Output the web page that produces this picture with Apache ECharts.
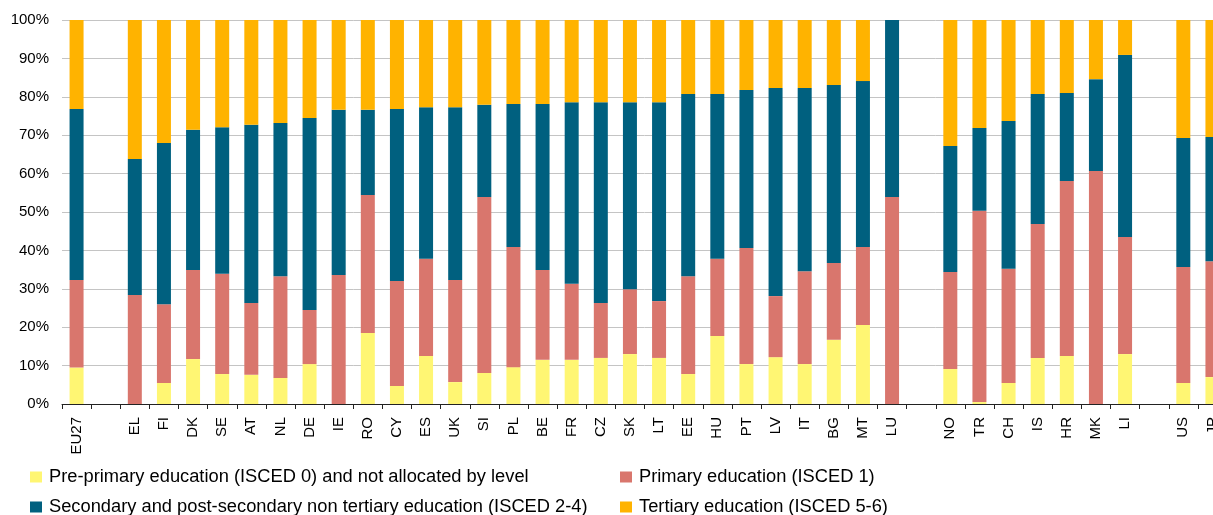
<!DOCTYPE html>
<html>
<head>
<meta charset="utf-8">
<script src="https://cdn.jsdelivr.net/npm/echarts@6/dist/echarts.min.js"></script>
<style>
  html, body { margin: 0; padding: 0; background: #fff; overflow: hidden; }
  /* plot runs past the right edge in the original, JP is cut off */
  #chart { width: 1240px; height: 515px; }
</style>
</head>
<body>
<div id="chart"></div>
<script>
// categories (blank slots are the gaps between country groups)
const countries = ["EU27", " ", "EL", "FI", "DK", "SE", "AT", "NL", "DE", "IE", "RO", "CY", "ES", "UK", "SI", "PL", "BE", "FR", "CZ", "SK", "LT", "EE", "HU", "PT", "LV", "IT", "BG", "MT", "LU", "  ", "NO", "TR", "CH", "IS", "HR", "MK", "LI", "   ", "US", "JP"];

// share of expenditure by level, %
const prePrimary = [9.5, null, 0, 5.5, 11.7, 7.8, 7.6, 6.8, 10.4, 0, 18.5, 4.7, 12.5, 5.7, 8.1, 9.6, 11.5, 11.5, 12.0, 13.0, 12.0, 7.8, 17.7, 10.4, 12.2, 10.4, 16.7, 20.6, 0, null, 9.1, 0.5, 5.5, 12.0, 12.5, 0, 13.0, null, 5.5, 7.0];
const primary = [22.8, null, 28.4, 20.5, 23.2, 26.1, 18.7, 26.5, 14.1, 33.6, 35.9, 27.3, 25.3, 26.6, 45.8, 31.3, 23.4, 19.8, 14.3, 16.9, 14.8, 25.5, 20.1, 30.2, 15.9, 24.2, 20.0, 20.3, 53.9, null, 25.3, 49.8, 29.7, 34.9, 45.6, 60.7, 30.5, null, 30.2, 30.2];
const secondary = [44.5, null, 35.4, 42.0, 36.5, 38.2, 46.4, 39.9, 50.0, 43.0, 22.2, 44.8, 39.5, 45.0, 24.0, 37.2, 43.2, 47.3, 52.3, 48.7, 51.8, 47.4, 42.9, 41.2, 54.2, 47.7, 46.4, 43.2, 46.1, null, 32.8, 21.6, 38.5, 33.8, 22.9, 23.9, 47.4, null, 33.6, 32.3];
const tertiary = [23.2, null, 36.2, 32.0, 28.6, 27.9, 27.3, 26.8, 25.5, 23.4, 23.4, 23.2, 22.7, 22.7, 22.1, 21.9, 21.9, 21.4, 21.4, 21.4, 21.4, 19.3, 19.3, 18.2, 17.7, 17.7, 16.9, 15.9, 0, null, 32.8, 28.1, 26.3, 19.3, 19.0, 15.4, 9.1, null, 30.7, 30.5];

const seriesNames = [
  "Pre-primary education (ISCED 0) and not allocated by level",
  "Primary education (ISCED 1)",
  "Secondary and post-secondary non tertiary education (ISCED 2-4)",
  "Tertiary education (ISCED 5-6)"
];
const colors = ["#FFF673", "#D9766D", "#00607F", "#FFB300"];

const font = "'Liberation Sans', Arial, sans-serif";
const chart = echarts.init(document.getElementById("chart"));

const dataArr = [prePrimary, primary, secondary, tertiary];
const series = dataArr.map((d, i) => ({
  name: seriesNames[i],
  type: "bar",
  stack: "total",
  barWidth: 14,
  data: d,
  itemStyle: { color: colors[i] },
}));

// two legend columns, two rows each
const legendBase = {
  orient: "vertical",
  top: 468,
  height: 60,
  padding: 0,
  itemWidth: 12,
  itemHeight: 11,
  itemGap: 12,
  icon: "rect",
  textStyle: {
    fontFamily: font,
    fontSize: 18.3,
    color: "#000",
    lineHeight: 18,
    padding: [0, 0, 0, 2],
  },
};

chart.setOption({
  animation: false,
  color: colors,
  grid: { left: 62, top: 20, width: 1165, height: 384 },
  legend: [
    Object.assign({}, legendBase, { left: 30, data: [seriesNames[0], seriesNames[2]] }),
    Object.assign({}, legendBase, { left: 620, data: [seriesNames[1], seriesNames[3]] }),
  ],
  xAxis: {
    type: "category",
    data: countries,
    axisLine: { lineStyle: { color: "#222", width: 1 } },
    axisTick: { show: true, length: 5, lineStyle: { color: "#222" } },
    axisLabel: {
      interval: 0,
      rotate: 90,
      margin: 13,
      fontFamily: font,
      fontSize: 15,
      color: "#000",
    },
  },
  yAxis: {
    type: "value",
    min: 0,
    max: 100,
    interval: 10,
    axisLine: { show: false },
    axisTick: { show: false },
    axisLabel: {
      formatter: "{value}%",
      margin: 13,
      fontFamily: font,
      fontSize: 15,
      color: "#000",
    },
    splitLine: { lineStyle: { color: "#c4c4c4", width: 1 } },
  },
  series: series,
});
</script>
</body>
</html>
